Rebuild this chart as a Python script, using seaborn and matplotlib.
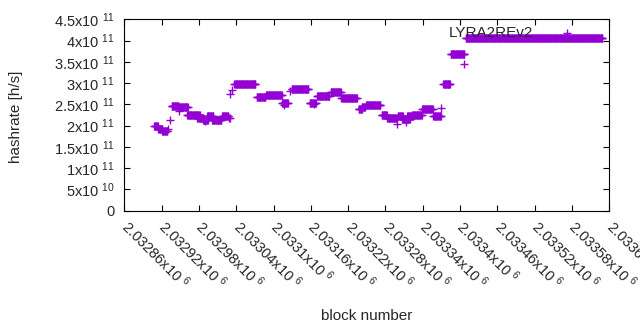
import numpy as np
import pandas as pd
import matplotlib
matplotlib.use('Agg')
import matplotlib.pyplot as plt
import seaborn as sns

# hashrate: runs of blocks sharing one value (in 1e11 h/s)
seg_start = [2032908, 2032915, 2032921, 2032936, 2032948, 2032961, 2032977, 2032987,
             2032993, 2033001, 2033017, 2033037, 2033073, 2033088, 2033114, 2033129,
             2033158, 2033170, 2033192, 2033209, 2033237, 2033242, 2033249, 2033274,
             2033283, 2033300, 2033307, 2033315, 2033323, 2033339, 2033357, 2033373,
             2033385, 2033409]
seg_end = [2032914, 2032921, 2032929, 2032947, 2032962, 2032981, 2032987, 2032994,
           2033003, 2033016, 2033027, 2033071, 2033087, 2033113, 2033123, 2033156,
           2033168, 2033190, 2033208, 2033234, 2033242, 2033247, 2033272, 2033282,
           2033298, 2033308, 2033319, 2033324, 2033338, 2033356, 2033369, 2033384,
           2033407, 2033629]
seg_rate = [1.99, 1.93, 1.87, 2.455, 2.43, 2.245, 2.17, 2.13,
            2.215, 2.125, 2.22, 2.975, 2.68, 2.71, 2.525, 2.87,
            2.54, 2.70, 2.78, 2.64, 2.38, 2.43, 2.475, 2.245,
            2.17, 2.215, 2.15, 2.215, 2.25, 2.40, 2.22, 2.98,
            3.675, 4.07]

# single stray blocks
odd_block = [2032931, 2032933, 2032948, 2032990, 2033028, 2033030, 2033030, 2033033,
             2033117, 2033126, 2033165, 2033299, 2033313, 2033370, 2033407]
odd_rate = [1.91, 2.125, 2.34, 2.10, 2.17, 2.17, 2.75, 2.83,
            2.49, 2.81, 2.50, 2.05, 2.09, 2.41, 3.44]

y_ticks = [0, 0.5e11, 1e11, 1.5e11, 2e11, 2.5e11, 3e11, 3.5e11, 4e11, 4.5e11]
y_labels = ['0', '5x10 $^{10}$', '1x10 $^{11}$', '1.5x10 $^{11}$', '2x10 $^{11}$',
            '2.5x10 $^{11}$', '3x10 $^{11}$', '3.5x10 $^{11}$', '4x10 $^{11}$', '4.5x10 $^{11}$']
x_ticks = [2032860, 2032920, 2032980, 2033040, 2033100, 2033160, 2033220,
           2033280, 2033340, 2033400, 2033460, 2033520, 2033580, 2033640]
x_labels = ['2.03286x10 $^{6}$', '2.03292x10 $^{6}$', '2.03298x10 $^{6}$', '2.03304x10 $^{6}$',
            '2.0331x10 $^{6}$', '2.03316x10 $^{6}$', '2.03322x10 $^{6}$', '2.03328x10 $^{6}$',
            '2.03334x10 $^{6}$', '2.0334x10 $^{6}$', '2.03346x10 $^{6}$', '2.03352x10 $^{6}$',
            '2.03358x10 $^{6}$', '2.03364x10 $^{6}$']

blocks, rates = [], []
for s, e, r in zip(seg_start, seg_end, seg_rate):
    for b in range(s, e + 1):
        blocks.append(b)
        rates.append(r * 1e11)
blocks += odd_block
rates += [r * 1e11 for r in odd_rate]
df = pd.DataFrame({'block': blocks, 'hashrate': rates})

sns.set_style('ticks')
plt.rcParams['font.family'] = ['Liberation Sans', 'DejaVu Sans']
plt.rcParams['mathtext.fontset'] = 'custom'
plt.rcParams['mathtext.rm'] = 'Liberation Sans'
plt.rcParams['mathtext.default'] = 'regular'

fig, ax = plt.subplots(figsize=(6.4, 3.3), dpi=100)
fig.subplots_adjust(left=0.1942, right=0.952, top=0.9415, bottom=0.3615)

sns.scatterplot(data=df, x='block', y='hashrate', marker='+', color='#9400d3',
                s=40, linewidth=1.0, label='LYRA2REv2', ax=ax)

ax.set_xlim(2032860, 2033640)
ax.set_ylim(0, 4.5e11)
ax.set_yticks(y_ticks)
ax.set_yticklabels(y_labels, fontsize=10.5)
ax.set_xticks(x_ticks)
ax.set_xticklabels(x_labels, fontsize=10.5, rotation=-45, ha='left', va='center',
                   rotation_mode='anchor')
ax.tick_params(direction='in', length=4.5, width=0.8, top=True, right=True, color='black')
ax.tick_params(axis='x', pad=9)
ax.tick_params(axis='y', pad=7)
for sp in ax.spines.values():
    sp.set_visible(True)
    sp.set_color('black')
    sp.set_linewidth(0.8)

ax.set_xlabel('block number', fontsize=11)
ax.set_ylabel('hashrate [h/s]', fontsize=11)
ax.xaxis.set_label_coords(0.5, -0.514)
ax.yaxis.set_label_coords(-0.209, 0.49)

ax.legend(loc='upper right', bbox_to_anchor=(0.941, 0.995), frameon=False, markerfirst=False,
          fontsize=11, handlelength=1.0, handletextpad=1.72, borderaxespad=0.0)

fig.savefig('out.png', dpi=100)
